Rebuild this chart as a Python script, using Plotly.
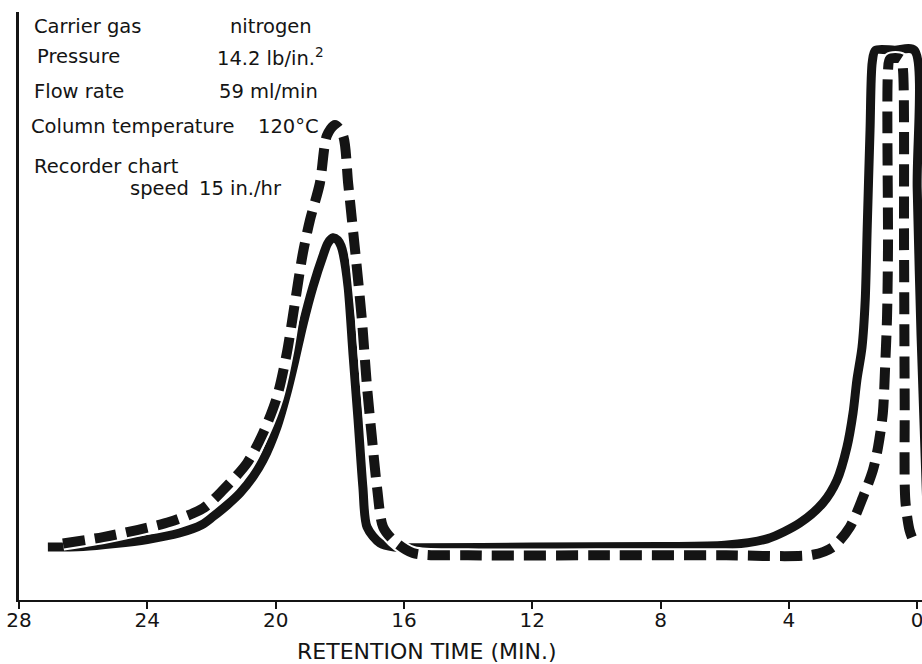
import plotly.graph_objects as go

# Retention time (min) and recorder response for the two chromatograms
solid_t = [27.10, 26.00, 25.00, 24.00, 23.00, 22.30, 21.95, 21.50, 21.11, 20.70,
           20.39, 19.96, 19.65, 19.40, 19.15, 18.84, 18.52, 18.37, 18.21, 18.06,
           17.96, 17.89, 17.74, 17.59, 17.43, 17.28, 17.15, 16.75, 16.30, 15.50,
           12.0, 8.0, 6.0, 4.68, 3.66, 2.94, 2.50, 2.19, 2.00, 1.88,
           1.72, 1.62, 1.56, 1.47, 1.40, 1.30, 0.70, 0.09, 0.00, -0.12, -0.40]
solid_y = [9.0, 9.1, 9.6, 10.3, 11.4, 12.8, 14.2, 16.2, 18.2, 21.0,
           23.8, 29.4, 35.2, 40.8, 46.8, 53.2, 58.6, 60.7, 61.6, 61.2,
           60.2, 58.8, 53.2, 42.0, 30.6, 19.2, 12.4, 9.7, 9.0, 8.9,
           9.0, 9.1, 9.3, 10.4, 13.1, 16.5, 20.4, 26.0, 31.8, 37.4,
           43.0, 51.0, 62.9, 79.9, 91.5, 93.5, 93.5, 93.5, 70.0, 45.0, 0.0]

dashed_t = [26.63, 25.38, 24.32, 23.29, 22.26, 21.64, 20.89, 20.39, 19.96, 19.65,
            19.40, 19.15, 18.93, 18.62, 18.40, 18.15, 17.90, 17.74, 17.62, 17.46,
            17.31, 17.15, 17.00, 16.84, 16.65, 16.34, 15.72, 14.0, 10.0, 6.0,
            3.25, 2.63, 2.10, 1.69, 1.38, 1.22, 1.07, 1.00, 0.94, 0.91,
            0.91, 0.85, 0.50, 0.44, 0.41, 0.39, 0.37, 0.24, 0.13]
dashed_y = [9.6, 10.7, 11.9, 13.3, 15.6, 18.7, 23.3, 28.4, 34.5, 42.0,
            50.5, 59.0, 64.6, 70.9, 79.0, 80.8, 79.0, 70.9, 64.6, 56.1,
            47.6, 36.2, 27.7, 19.2, 12.4, 10.2, 8.0, 7.6, 7.6, 7.6,
            7.7, 9.0, 12.4, 17.5, 22.1, 26.0, 31.8, 39.6, 48.1, 60.0,
            90.0, 92.0, 92.0, 90.0, 60.0, 34.0, 17.0, 11.9, 10.2]

tick_vals = [28, 24, 20, 16, 12, 8, 4, 0]
tick_text = ["28", "24", "20", "16", "12", "8", "4", "0"]

# Operating conditions printed in the upper-left corner: (text, x, y) in paper units
conditions = [
    ("Carrier gas", 0.0144, 0.976),
    ("nitrogen", 0.2315, 0.976),
    ("Pressure", 0.0177, 0.9235),
    ("14.2 lb/in.<sup>2</sup>", 0.2170, 0.9235),
    ("Flow rate", 0.0144, 0.8656),
    ("59 ml/min", 0.2193, 0.8656),
    ("Column temperature", 0.0111, 0.806),
    ("120°C", 0.2627, 0.806),
    ("Recorder chart", 0.0144, 0.738),
    ("speed", 0.1207, 0.699),
    ("15 in./hr", 0.1970, 0.699),
]

INK = "#141414"
FONT = "DejaVu Sans"
SMOOTH = 0.8

fig = go.Figure()

fig.add_trace(go.Scatter(
    x=solid_t, y=solid_y, mode="lines",
    line=dict(color=INK, width=9, shape="spline", smoothing=SMOOTH),
    hoverinfo="skip", showlegend=False))

# white halo keeps the dashed trace visually separate where it crosses the solid one
fig.add_trace(go.Scatter(
    x=dashed_t, y=dashed_y, mode="lines",
    line=dict(color="white", width=14, shape="spline", smoothing=SMOOTH),
    hoverinfo="skip", showlegend=False))

fig.add_trace(go.Scatter(
    x=dashed_t, y=dashed_y, mode="lines",
    line=dict(color=INK, width=10, dash="22px,10px", shape="spline", smoothing=SMOOTH),
    hoverinfo="skip", showlegend=False))

for text, xp, yp in conditions:
    fig.add_annotation(
        text=text, x=xp, y=yp, xref="paper", yref="paper",
        xanchor="left", yanchor="middle", showarrow=False,
        font=dict(family=FONT, size=19.5, color=INK))

fig.add_annotation(
    text="RETENTION TIME (MIN.)", x=0.452, y=-0.0875, xref="paper", yref="paper",
    xanchor="center", yanchor="middle", showarrow=False,
    font=dict(family=FONT, size=22, color=INK))

fig.update_xaxes(
    range=[28, -0.15], tickvals=tick_vals, ticktext=tick_text,
    showgrid=False, zeroline=False, showline=True, linecolor=INK, linewidth=2,
    ticks="outside", ticklen=7, tickwidth=2, tickcolor=INK,
    ticklabelstandoff=-6, ticklabeloverflow="allow", automargin=False,
    tickfont=dict(family=FONT, size=20, color=INK))

fig.update_yaxes(
    range=[0, 100], showgrid=False, zeroline=False, showticklabels=False,
    showline=True, mirror=True, linecolor=INK, linewidth=2.5, ticks="",
    automargin=False)

fig.update_layout(
    width=922, height=664,
    margin=dict(l=19, r=0, t=12, b=64),
    paper_bgcolor="white", plot_bgcolor="white")

fig.write_html("out.html")
